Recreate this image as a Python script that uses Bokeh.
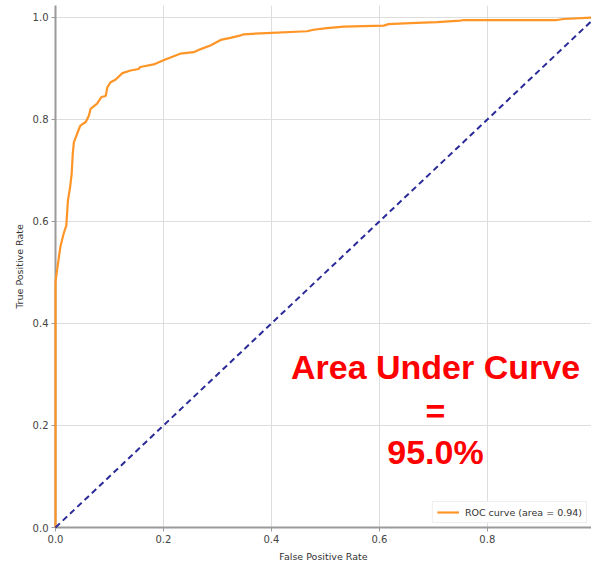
from bokeh.plotting import figure
from bokeh.models import FixedTicker, PrintfTickFormatter, Label, Legend, LegendItem
from bokeh.embed import file_html
from bokeh.resources import INLINE

fpr = [0.0, 0.0, 0.001, 0.003, 0.009, 0.015, 0.02, 0.023, 0.027, 0.03,
       0.032, 0.034, 0.04, 0.046, 0.056, 0.062, 0.065, 0.077, 0.085, 0.093,
       0.096, 0.102, 0.111, 0.124, 0.139, 0.154, 0.157, 0.182, 0.2, 0.219,
       0.231, 0.256, 0.269, 0.287, 0.306, 0.324, 0.343, 0.349, 0.38, 0.466,
       0.478, 0.503, 0.534, 0.608, 0.617, 0.657, 0.707, 0.75, 0.756, 0.929,
       0.941, 1.0]
tpr = [0.0, 0.48, 0.49, 0.505, 0.55, 0.576, 0.592, 0.641, 0.667, 0.694,
       0.733, 0.755, 0.772, 0.788, 0.795, 0.808, 0.821, 0.831, 0.844, 0.846,
       0.863, 0.873, 0.878, 0.891, 0.896, 0.899, 0.903, 0.908, 0.916, 0.924,
       0.929, 0.932, 0.938, 0.945, 0.956, 0.96, 0.965, 0.967, 0.969, 0.973,
       0.976, 0.979, 0.982, 0.984, 0.987, 0.989, 0.991, 0.994, 0.995, 0.995,
       0.997, 1.0]
diag_x = [0.0, 1.0]
diag_y = [0.0, 1.0]
ticks = [0.0, 0.2, 0.4, 0.6, 0.8, 1.0]
legend_label = "ROC curve (area = 0.94)"
annotation_lines = ["Area Under Curve", "=", "95.0%"]
annotation_y = [0.314, 0.229, 0.149]
annotation_x = 0.704

p = figure(width=591, height=573, x_range=(0, 0.993), y_range=(0, 1.0235),
           output_backend="svg", toolbar_location=None,
           min_border_left=55, min_border_right=0, min_border_top=5,
           min_border_bottom=46)
p.outline_line_color = None
p.background_fill_color = "white"

roc = p.line(fpr, tpr, line_color="#ff9526", line_width=2.2)
roc.level = "overlay"
diag = p.line(diag_x, diag_y, line_color="#2a2a98", line_width=2, line_dash="6 4")
diag.level = "overlay"

for ax in (p.xaxis[0], p.yaxis[0]):
    ax.ticker = FixedTicker(ticks=ticks)
    ax.formatter = PrintfTickFormatter(format="%.1f")
    ax.axis_line_color = "#9a9a9a"
    ax.axis_line_width = 2
    ax.major_tick_line_color = "#9a9a9a"
    ax.major_tick_out = 4
    ax.major_tick_in = 0
    ax.minor_tick_line_color = None
    ax.major_label_text_font = "DejaVu Sans"
    ax.major_label_text_font_size = "10px"
    ax.major_label_text_color = "#444444"
    ax.major_label_standoff = 3
    ax.axis_label_text_font = "DejaVu Sans"
    ax.axis_label_text_font_size = "9.5px"
    ax.axis_label_text_font_style = "normal"
    ax.axis_label_text_color = "#333333"
    ax.axis_label_standoff = 5

p.xaxis.axis_label = "False Positive Rate"
p.yaxis.axis_label = "True Positive Rate"

p.xgrid.ticker = FixedTicker(ticks=ticks)
p.ygrid.ticker = FixedTicker(ticks=ticks)
p.grid.grid_line_color = "#dddddd"
p.grid.grid_line_width = 1

legend = Legend(items=[LegendItem(label=legend_label, renderers=[roc])],
                location="bottom_right")
legend.label_text_font = "DejaVu Sans"
legend.label_text_font_size = "9.5px"
legend.label_text_color = "#333333"
legend.border_line_color = "#dddddd"
legend.border_line_width = 1
legend.glyph_width = 22
legend.glyph_height = 12
legend.padding = 4
legend.margin = 4
legend.spacing = 0
legend.label_standoff = 6
p.add_layout(legend, "center")

for txt, yy in zip(annotation_lines, annotation_y):
    p.add_layout(Label(x=annotation_x, y=yy, text=txt, text_color="#ff0000",
                       text_font="Liberation Sans", text_font_style="bold",
                       text_font_size="34px", text_align="center",
                       text_baseline="middle"))

open("out.html", "w").write(file_html(p, INLINE))
